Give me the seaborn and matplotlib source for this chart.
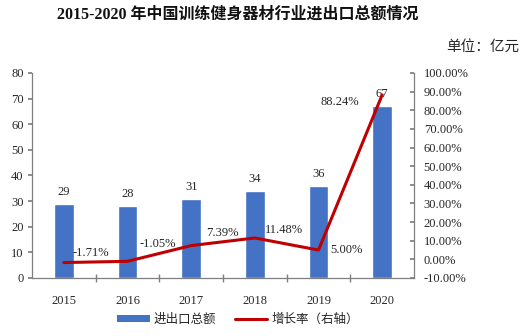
import matplotlib
matplotlib.use("Agg")
import matplotlib.pyplot as plt
import matplotlib.ticker as mticker
from matplotlib.patches import Patch
from matplotlib.lines import Line2D
import numpy as np
import pandas as pd
import seaborn as sns

years = ["2015", "2016", "2017", "2018", "2019", "2020"]
totals = [29, 28, 31, 34, 36, 67]
growth = [-1.71, -1.05, 7.39, 11.48, 5.00, 88.24]
growth_labels = ["-1.71%", "-1.05%", "7.39%", "11.48%", "5.00%", "88.24%"]

sns.set_theme(style="white")
plt.rcParams["font.family"] = ["Liberation Serif", "Noto Sans CJK SC", "DejaVu Sans"]

BLUE = "#4472C4"
RED = "#C00000"
AXIS = "#7f7f7f"
TEXT = "#262626"
FS = 9

fig = plt.figure(figsize=(5.22, 3.36), dpi=100)
ax = fig.add_axes([32 / 522, 1 - 278 / 336, (414 - 32) / 522, (278 - 73) / 336])

df = pd.DataFrame({"year": years, "total": totals, "growth": growth})
sns.barplot(data=df, x="year", y="total", color=BLUE, width=0.31,
            saturation=1, ax=ax)
ax.set_xlim(-0.5, len(years) - 0.5)
ax.set_ylim(0, 80)
ax.set_yticks(range(0, 81, 10))
ax.set_xlabel("")
ax.set_ylabel("")

for i, v in enumerate(totals):
    ax.annotate(str(v), (i, v), xytext=(0, 6), textcoords="offset pixels",
                ha="center", va="bottom", fontsize=FS, color=TEXT)

ax2 = ax.twinx()
sns.lineplot(x=np.arange(len(years)), y=growth, color=RED, linewidth=2.2,
             ax=ax2)
ax2.set_ylim(-10, 100)
ax2.set_yticks(range(-10, 101, 10))
ax2.yaxis.set_major_formatter(mticker.FuncFormatter(lambda v, p: f"{v:.2f}%"))
ax2.set_xlim(-0.5, len(years) - 0.5)

offsets = [(27, 10), (30, 17), (31, 13), (29, 8), (28, 0), (-42, -7)]
for i, (v, lab) in enumerate(zip(growth, growth_labels)):
    ax2.annotate(lab, (i, v), xytext=offsets[i], textcoords="offset pixels",
                 ha="center", va="center", fontsize=FS, color=TEXT)

for a in (ax, ax2):
    for s in a.spines.values():
        s.set_visible(False)
    a.grid(False)

ax.spines["left"].set_visible(True)
ax.spines["bottom"].set_visible(True)
ax2.spines["right"].set_visible(True)
for s in (ax.spines["left"], ax.spines["bottom"], ax2.spines["right"]):
    s.set_color(AXIS)
    s.set_linewidth(0.9)

ax.tick_params(axis="y", left=True, direction="out", length=3, color=AXIS,
               labelsize=FS, labelcolor=TEXT, pad=3)
ax.tick_params(axis="x", bottom=False, labelsize=FS, labelcolor=TEXT, pad=6)
ax.set_xticks(range(len(years)))
ax.set_xticklabels(years)
ax.set_xticks(np.arange(0.5, len(years) - 0.5, 1), minor=True)
ax.tick_params(axis="x", which="minor", bottom=True, direction="inout",
               length=6, color=AXIS)
ax2.tick_params(axis="y", right=True, direction="in", length=3, color=AXIS,
                labelsize=FS, labelcolor=TEXT, pad=7)

fig.text(238 / 522, 1 - 15 / 336, "2015-2020 年中国训练健身器材行业进出口总额情况",
         ha="center", va="center", fontsize=11.5, fontweight="bold",
         color="#111111")
fig.text(519 / 522, 1 - 47 / 336, "单位：亿元", ha="right", va="center",
         fontsize=10.5, color=TEXT)

handles = [Patch(facecolor=BLUE, edgecolor="none"),
           Line2D([0], [0], color=RED, linewidth=2.2)]
fig.legend(handles, ["进出口总额", "增长率（右轴）"], loc="center",
           bbox_to_anchor=(238 / 522, 1 - 320 / 336), ncol=2, frameon=False,
           fontsize=9, handlelength=2.6, handleheight=0.5,
           columnspacing=1.5, handletextpad=0.3, labelcolor=TEXT)

fig.savefig("out.png", dpi=100)
